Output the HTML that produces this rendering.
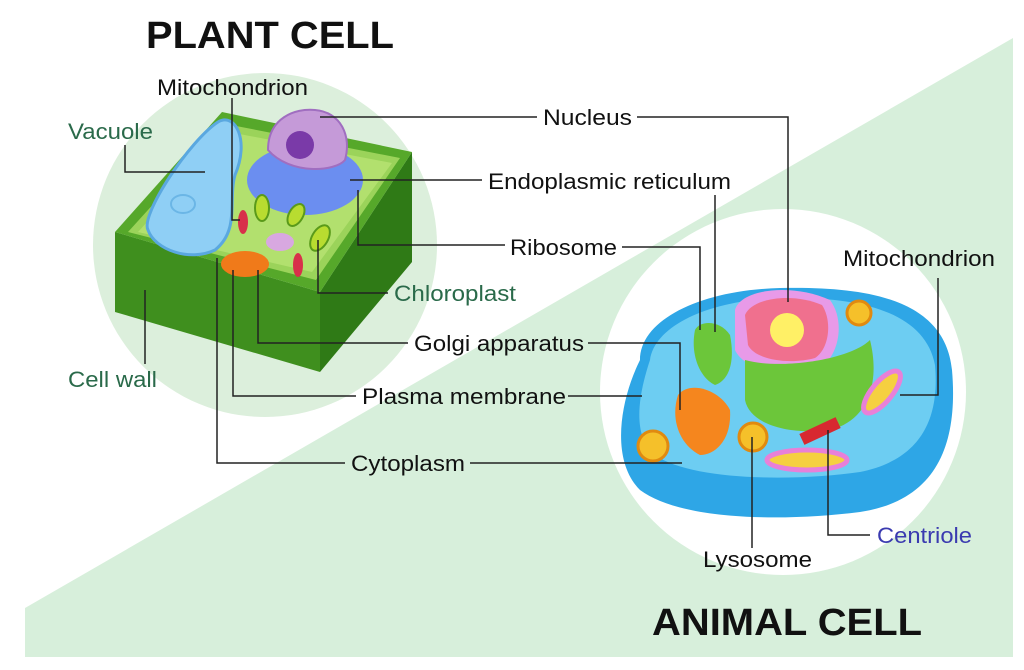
<!DOCTYPE html>
<html><head><style>
html,body{margin:0;padding:0;background:#fff}
svg{display:block}
text{font-family:"Liberation Sans",Arial,sans-serif;font-size:22px;fill:#111}
</style></head><body>
<svg width="1024" height="670" viewBox="0 0 1024 670" xmlns="http://www.w3.org/2000/svg">
<rect width="1024" height="670" fill="#fff"/>
<polygon points="1013,38 1013,657 25,657 25,608" fill="#d7efdb"/>
<circle cx="265" cy="245" r="172" fill="#dcefdc"/>
<circle cx="783" cy="392" r="183" fill="#fff"/>

<g>
<polygon points="115,232 320,292 320,372 115,312" fill="#3f8f1e"/>
<polygon points="320,292 412,152 412,262 320,372" fill="#2f7a16"/>
<polygon points="115,232 222,112 412,152 320,292" fill="#56a82a"/>
<polygon points="128,232 226,124 400,158 316,280" fill="#9bd35a"/>
<polygon points="138,232 229,132 392,163 312,272" fill="#b2e06e"/>
<path d="M148,230 C140,215 190,140 218,122 C235,112 250,140 235,175 C228,200 240,230 215,250 C190,262 155,250 148,230Z" fill="#8fcff5" stroke="#5aa8e0" stroke-width="3"/>
<ellipse cx="183" cy="204" rx="12" ry="9" fill="none" stroke="#6bb6e6" stroke-width="2"/>
<ellipse cx="305" cy="180" rx="58" ry="35" fill="#6b8ef0"/>
<path d="M268,150 C268,118 295,108 315,110 C340,112 352,135 345,160 C335,172 290,175 268,150Z" fill="#c59ad8" stroke="#a06ec0" stroke-width="2"/>
<circle cx="300" cy="145" r="14" fill="#7a3aa8"/>
<ellipse cx="262" cy="208" rx="7" ry="13" fill="#b8dc30" stroke="#5a9a1a" stroke-width="2"/>
<ellipse cx="296" cy="215" rx="7" ry="12" fill="#b8dc30" stroke="#5a9a1a" stroke-width="2" transform="rotate(30 296 215)"/>
<ellipse cx="320" cy="238" rx="8" ry="14" fill="#b8dc30" stroke="#5a9a1a" stroke-width="2" transform="rotate(30 320 238)"/>
<ellipse cx="243" cy="222" rx="5" ry="12" fill="#d8304a"/>
<ellipse cx="298" cy="265" rx="5" ry="12" fill="#d8304a"/>
<ellipse cx="280" cy="242" rx="14" ry="9" fill="#d8a8e0"/>
<ellipse cx="245" cy="264" rx="24" ry="13" fill="#f07a1a"/>
</g>

<g>
<path d="M640,360 C640,320 700,290 780,288 C870,286 945,300 952,370 C958,440 940,500 860,512 C780,522 680,520 640,490 C610,460 620,400 640,360Z" fill="#2ea6e6"/>
<path d="M650,360 C655,325 710,300 780,298 C860,296 925,312 935,365 C940,420 920,460 860,472 C790,482 690,480 655,455 C630,435 640,390 650,360Z" fill="#6dcdf2"/>
<path d="M735,310 C740,290 790,282 830,300 C845,320 840,355 820,368 C790,378 745,372 735,350Z" fill="#e89ae8"/>
<path d="M745,315 C752,298 792,292 822,305 C832,320 830,348 815,358 C790,365 755,360 748,345Z" fill="#f0708e"/>
<circle cx="787" cy="330" r="17" fill="#fff066"/>
<path d="M745,360 C780,370 850,360 870,340 C880,380 870,420 830,430 C790,435 750,425 745,400Z" fill="#6cc63a"/>
<path d="M695,330 C700,320 720,320 730,335 C735,360 730,380 715,385 C700,378 690,355 695,330Z" fill="#6cc63a"/>
<path d="M678,395 C690,380 720,390 730,410 C732,440 715,455 700,455 C680,445 670,420 678,395Z" fill="#f5861e"/>
<circle cx="653" cy="446" r="15" fill="#f5c02a" stroke="#e08a10" stroke-width="3"/>
<circle cx="753" cy="437" r="14" fill="#f5c02a" stroke="#e08a10" stroke-width="3"/>
<circle cx="859" cy="313" r="12" fill="#f5c02a" stroke="#e08a10" stroke-width="3"/>
<ellipse cx="882" cy="392" rx="10" ry="26" fill="#f5d040" stroke="#e880d8" stroke-width="5" transform="rotate(40 882 392)"/>
<ellipse cx="807" cy="460" rx="40" ry="10" fill="#f5d040" stroke="#e880d8" stroke-width="5"/>
<rect x="800" y="425" width="40" height="12" fill="#d82830" transform="rotate(-25 820 431)"/>
</g>

<g stroke="#222" stroke-width="1.5" fill="none">
<polyline points="232,98 232,220 240,220"/>
<polyline points="125,145 125,172 205,172"/>
<polyline points="320,117 537,117"/>
<polyline points="637,117 788,117 788,302"/>
<polyline points="350,180 482,180"/>
<polyline points="715,195 715,332"/>
<polyline points="358,190 358,245 505,245"/>
<polyline points="622,247 700,247 700,330"/>
<polyline points="938,278 938,395 900,395"/>
<polyline points="318,240 318,293 388,293"/>
<polyline points="258,270 258,343 408,343"/>
<polyline points="588,343 680,343 680,410"/>
<polyline points="233,270 233,396 356,396"/>
<polyline points="568,396 642,396"/>
<polyline points="217,258 217,463 345,463"/>
<polyline points="470,463 682,463"/>
<polyline points="145,290 145,364"/>
<polyline points="752,437 752,548"/>
<polyline points="828,430 828,535 870,535"/>
</g>

<text x="146" y="48" style="font-size:38px;font-weight:bold" textLength="248" lengthAdjust="spacingAndGlyphs">PLANT CELL</text>
<text x="652" y="635" style="font-size:38px;font-weight:bold" textLength="270" lengthAdjust="spacingAndGlyphs">ANIMAL CELL</text>
<text x="157" y="95" textLength="151" lengthAdjust="spacingAndGlyphs">Mitochondrion</text>
<text x="68" y="139" style="fill:#2a6a4a" textLength="85" lengthAdjust="spacingAndGlyphs">Vacuole</text>
<text x="543" y="125" textLength="89" lengthAdjust="spacingAndGlyphs">Nucleus</text>
<text x="488" y="189" textLength="243" lengthAdjust="spacingAndGlyphs">Endoplasmic reticulum</text>
<text x="510" y="255" textLength="107" lengthAdjust="spacingAndGlyphs">Ribosome</text>
<text x="843" y="266" textLength="152" lengthAdjust="spacingAndGlyphs">Mitochondrion</text>
<text x="394" y="301" style="fill:#2a6a4a" textLength="122" lengthAdjust="spacingAndGlyphs">Chloroplast</text>
<text x="414" y="351" textLength="170" lengthAdjust="spacingAndGlyphs">Golgi apparatus</text>
<text x="68" y="387" style="fill:#2a6a4a" textLength="89" lengthAdjust="spacingAndGlyphs">Cell wall</text>
<text x="362" y="404" textLength="204" lengthAdjust="spacingAndGlyphs">Plasma membrane</text>
<text x="351" y="471" textLength="114" lengthAdjust="spacingAndGlyphs">Cytoplasm</text>
<text x="877" y="543" style="fill:#3a3ab0" textLength="95" lengthAdjust="spacingAndGlyphs">Centriole</text>
<text x="703" y="567" textLength="109" lengthAdjust="spacingAndGlyphs">Lysosome</text>
</svg>
</body></html>
